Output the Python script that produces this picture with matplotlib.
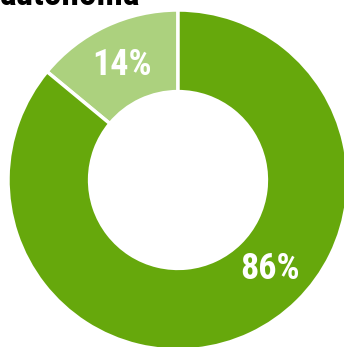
import numpy as np
import matplotlib.pyplot as plt

# data
labels = ['14%', '86%']
values = [14, 86]
colors = ['#acd17e', '#66a80c']
title = 'autonoma'

font = ['Roboto Condensed', 'Liberation Sans Narrow', 'Roboto', 'DejaVu Sans']

fig = plt.figure(figsize=(3.44, 3.47), dpi=100)
ax = fig.add_axes([0, 0, 1, 1])

wedges, _ = ax.pie(values, colors=colors, startangle=90, counterclock=True,
                   radius=1.0, wedgeprops=dict(width=0.48, edgecolor='white', linewidth=2.5))

# label positions (angle in degrees, radius)
label_pos = [(116, 0.75), (-44, 0.75)]
for lab, (ang, r) in zip(labels, label_pos):
    a = np.deg2rad(ang)
    ax.text(r * np.cos(a), r * np.sin(a), lab, ha='center', va='center',
            color='white', fontsize=26, fontweight='bold', family=font)

ax.set_xlim(-178 / 170, (344 - 178) / 170)
ax.set_ylim((180 - 347) / 170, 180 / 170)
ax.set_aspect('auto')
ax.axis('off')

fig.text(0.0, 1 - 5 / 347, title, ha='left', va='baseline', fontsize=25.5,
         fontweight='bold', family=font, color='black')

fig.savefig('out.png', dpi=100)
